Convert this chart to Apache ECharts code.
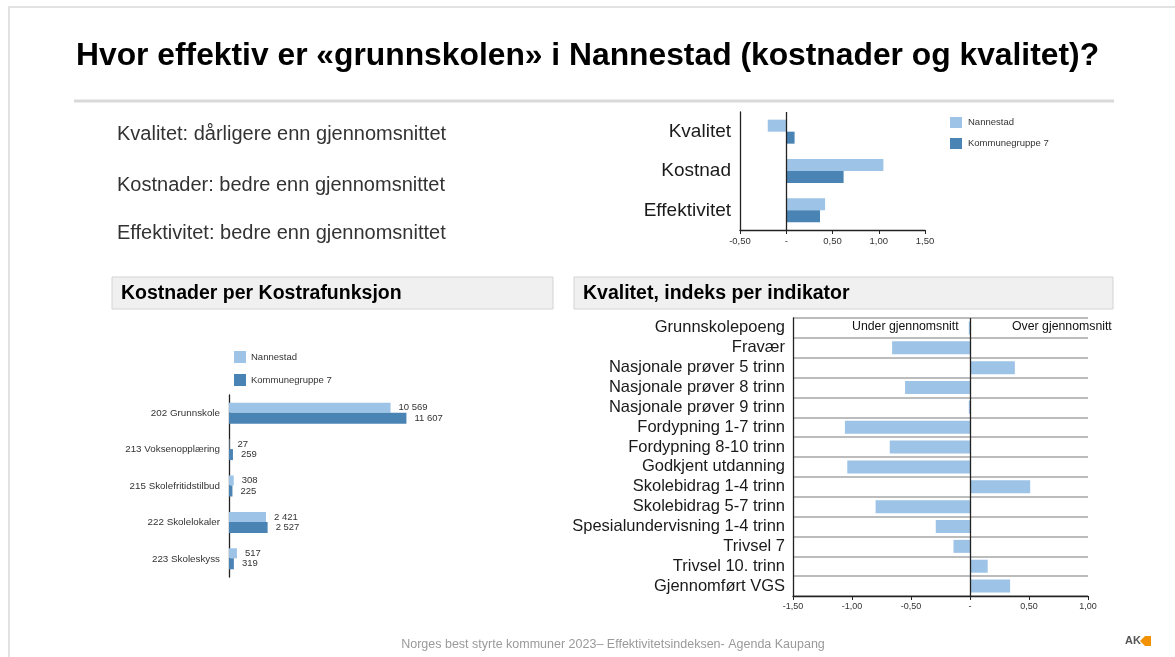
<!DOCTYPE html>
<html>
<head>
<meta charset="utf-8">
<script src="https://cdn.jsdelivr.net/npm/echarts@6/dist/echarts.min.js"></script>
<style>
  html, body { margin: 0; padding: 0; background: #ffffff; }
  #chart { width: 1175px; height: 657px; }
</style>
</head>
<body>
<div id="chart"></div>
<script>
// ---------- DATA ----------
const seriesNames = ['Nannestad', 'Kommunegruppe 7'];

const summaryCategories = ['Kvalitet', 'Kostnad', 'Effektivitet'];
const summaryNannestad = [-0.2, 1.05, 0.42];
const summaryGruppe7 = [0.09, 0.62, 0.365];
const summaryTicks = [-0.5, 0, 0.5, 1.0, 1.5];

const kostraCategories = ['202 Grunnskole', '213 Voksenopplæring', '215 Skolefritidstilbud', '222 Skolelokaler', '223 Skoleskyss'];
const kostraNannestad = [10569, 27, 308, 2421, 517];
const kostraGruppe7 = [11607, 259, 225, 2527, 319];

const qualityCategories = ['Grunnskolepoeng', 'Fravær', 'Nasjonale prøver 5 trinn', 'Nasjonale prøver 8 trinn',
  'Nasjonale prøver 9 trinn', 'Fordypning 1-7 trinn', 'Fordypning 8-10 trinn', 'Godkjent utdanning',
  'Skolebidrag 1-4 trinn', 'Skolebidrag 5-7 trinn', 'Spesialundervisning 1-4 trinn', 'Trivsel 7',
  'Trivsel 10. trinn', 'Gjennomført VGS'];
const qualityValues = [-0.01, -0.66, 0.38, -0.55, -0.01, -1.06, -0.68, -1.04, 0.51, -0.80, -0.29, -0.14, 0.15, 0.34];
const qualityTicks = [-1.5, -1.0, -0.5, 0, 0.5, 1.0];

const summaryLines = ['Kvalitet: dårligere enn gjennomsnittet', 'Kostnader: bedre enn gjennomsnittet', 'Effektivitet: bedre enn gjennomsnittet'];

// ---------- STYLE ----------
const LIGHT = '#9dc3e6';
const DARK = '#4a84b4';
const FONT = '"Liberation Sans", Arial, sans-serif';

const decFmt = v => (Math.abs(v) < 1e-9 ? '-' : v.toFixed(2).replace('.', ','));
const thouFmt = v => String(v).replace(/\B(?=(\d{3})+(?!\d))/g, ' ');

const chart = echarts.init(document.getElementById('chart'), null, { renderer: 'canvas' });

const option = {
  animation: false,
  textStyle: { fontFamily: FONT },
  color: [LIGHT, DARK],
  legend: [
    {
      data: seriesNames, orient: 'vertical', left: 950, top: 117, padding: 0, itemWidth: 12, itemHeight: 11, itemGap: 10,
      icon: 'rect', textStyle: { fontSize: 9.5, color: '#333', fontFamily: FONT, padding: [0, 0, 0, 1] }, selectedMode: false
    },
    {
      data: seriesNames, orient: 'vertical', left: 234, top: 351, padding: 0, itemWidth: 12, itemHeight: 12, itemGap: 11,
      icon: 'rect', textStyle: { fontSize: 9.5, color: '#333', fontFamily: FONT }, selectedMode: false
    }
  ],
  grid: [
    { left: 740, top: 112, width: 185, height: 118 },
    { left: 229, top: 395, width: 214, height: 182 },
    { left: 793, top: 318, width: 295, height: 278 }
  ],
  xAxis: [
    {
      gridIndex: 0, type: 'value', min: summaryTicks[0], max: summaryTicks[summaryTicks.length - 1], interval: 0.5,
      axisLine: { show: true, lineStyle: { color: '#222', width: 1.3 } },
      axisTick: { show: true, length: 4, lineStyle: { color: '#222' } },
      splitLine: { show: false },
      axisLabel: { formatter: decFmt, fontSize: 9.5, color: '#333', margin: 6 }
    },
    {
      gridIndex: 1, type: 'value', min: 0, max: 14000, show: false, splitLine: { show: false }
    },
    {
      gridIndex: 2, type: 'value', min: qualityTicks[0], max: qualityTicks[qualityTicks.length - 1], interval: 0.5,
      axisLine: { show: true, lineStyle: { color: '#222', width: 1.3 } },
      axisTick: { show: true, length: 4, lineStyle: { color: '#222' } },
      splitLine: { show: false },
      axisLabel: { formatter: decFmt, fontSize: 9, color: '#333', margin: 6 }
    }
  ],
  yAxis: [
    {
      gridIndex: 0, type: 'category', data: summaryCategories, inverse: true,
      axisLine: { show: true, onZero: false, lineStyle: { color: '#222', width: 1.3 } },
      axisTick: { show: false },
      axisLabel: { fontSize: 19, color: '#1a1a1a', margin: 9, interval: 0 }
    },
    {
      gridIndex: 1, type: 'category', data: kostraCategories, inverse: true,
      axisLine: { show: true, onZero: false, lineStyle: { color: '#222', width: 1.3 } },
      axisTick: { show: false },
      axisLabel: { fontSize: 9.8, color: '#333', margin: 9, interval: 0 }
    },
    {
      gridIndex: 2, type: 'category', data: qualityCategories, inverse: true,
      axisLine: { show: true, onZero: false, lineStyle: { color: '#222', width: 1.3 } },
      axisTick: { show: false, interval: 0 },
      splitLine: { show: true, interval: 0, lineStyle: { color: '#a6a6a6', width: 1.5 } },
      axisLabel: { fontSize: 16.5, color: '#1a1a1a', margin: 8, interval: 0, hideOverlap: false }
    }
  ],
  series: [
    {
      name: seriesNames[0], type: 'bar', xAxisIndex: 0, yAxisIndex: 0, data: summaryNannestad,
      barWidth: 12, barGap: '0%', itemStyle: { color: LIGHT },
      markLine: {
        silent: true, symbol: 'none', label: { show: false },
        lineStyle: { color: '#222', width: 1.3, type: 'solid' },
        data: [{ xAxis: 0 }]
      }
    },
    {
      name: seriesNames[1], type: 'bar', xAxisIndex: 0, yAxisIndex: 0, data: summaryGruppe7,
      barWidth: 12, barGap: '0%', itemStyle: { color: DARK }
    },
    {
      name: seriesNames[0], type: 'bar', xAxisIndex: 1, yAxisIndex: 1, data: kostraNannestad,
      barWidth: 10, barGap: '0%', itemStyle: { color: LIGHT },
      label: { show: true, position: 'right', distance: 8, formatter: p => thouFmt(p.value), fontSize: 9.5, color: '#333' }
    },
    {
      name: seriesNames[1], type: 'bar', xAxisIndex: 1, yAxisIndex: 1, data: kostraGruppe7,
      barWidth: 11, barGap: '0%', itemStyle: { color: DARK },
      label: { show: true, position: 'right', distance: 8, formatter: p => thouFmt(p.value), fontSize: 9.5, color: '#333' }
    },
    {
      name: 'Kvalitetsindeks', type: 'bar', xAxisIndex: 2, yAxisIndex: 2, data: qualityValues,
      barWidth: 13, itemStyle: { color: LIGHT },
      markLine: {
        silent: true, symbol: 'none', label: { show: false },
        lineStyle: { color: '#222', width: 1.3, type: 'solid' },
        data: [{ xAxis: 0 }]
      }
    }
  ],
  graphic: [
    { type: 'rect', silent: true, shape: { x: 9, y: 7, width: 1200, height: 700 }, style: { fill: 'none', stroke: '#e2e2e2', lineWidth: 2 } },
    { type: 'text', silent: true, x: 76, y: 56, style: { text: 'Hvor effektiv er «grunnskolen» i Nannestad (kostnader og kvalitet)?', font: 'bold 31.8px ' + FONT, fill: '#000', textVerticalAlign: 'middle' } },
    { type: 'line', silent: true, shape: { x1: 74, y1: 101, x2: 1114, y2: 101 }, style: { stroke: '#d9d9d9', lineWidth: 3 } },
    { type: 'text', silent: true, x: 117, y: 134, style: { text: summaryLines[0], font: '20px ' + FONT, fill: '#333', textVerticalAlign: 'middle' } },
    { type: 'text', silent: true, x: 117, y: 185, style: { text: summaryLines[1], font: '20px ' + FONT, fill: '#333', textVerticalAlign: 'middle' } },
    { type: 'text', silent: true, x: 117, y: 233, style: { text: summaryLines[2], font: '20px ' + FONT, fill: '#333', textVerticalAlign: 'middle' } },
    { type: 'rect', silent: true, shape: { x: 112, y: 277, width: 441, height: 32 }, style: { fill: '#f0f0f0', stroke: '#d4d4d4', lineWidth: 1 } },
    { type: 'text', silent: true, x: 121, y: 294, style: { text: 'Kostnader per Kostrafunksjon', font: 'bold 19.5px ' + FONT, fill: '#000', textVerticalAlign: 'middle' } },
    { type: 'rect', silent: true, shape: { x: 574, y: 277, width: 539, height: 32 }, style: { fill: '#f0f0f0', stroke: '#d4d4d4', lineWidth: 1 } },
    { type: 'text', silent: true, x: 583, y: 294, style: { text: 'Kvalitet, indeks per indikator', font: 'bold 19.5px ' + FONT, fill: '#000', textVerticalAlign: 'middle' } },
    { type: 'text', silent: true, x: 852, y: 327, z: 100, style: { text: 'Under gjennomsnitt', font: '12.3px ' + FONT, fill: '#111', textVerticalAlign: 'middle' } },
    { type: 'text', silent: true, x: 1012, y: 327, z: 100, style: { text: 'Over gjennomsnitt', font: '12.3px ' + FONT, fill: '#111', textVerticalAlign: 'middle' } },
    { type: 'text', silent: true, x: 613, y: 645, style: { text: 'Norges best styrte kommuner 2023– Effektivitetsindeksen- Agenda Kaupang', font: '12.5px ' + FONT, fill: '#9a9a9a', textAlign: 'center', textVerticalAlign: 'middle' } },
    { type: 'text', silent: true, x: 1125, y: 641, style: { text: 'AK', font: 'bold 11px ' + FONT, fill: '#555', textVerticalAlign: 'middle' } },
    { type: 'polygon', silent: true, shape: { points: [[1145, 636], [1140, 641], [1145, 646], [1151, 646], [1151, 636]] }, style: { fill: '#f39200' } }
  ]
};

chart.setOption(option);
</script>
</body>
</html>
